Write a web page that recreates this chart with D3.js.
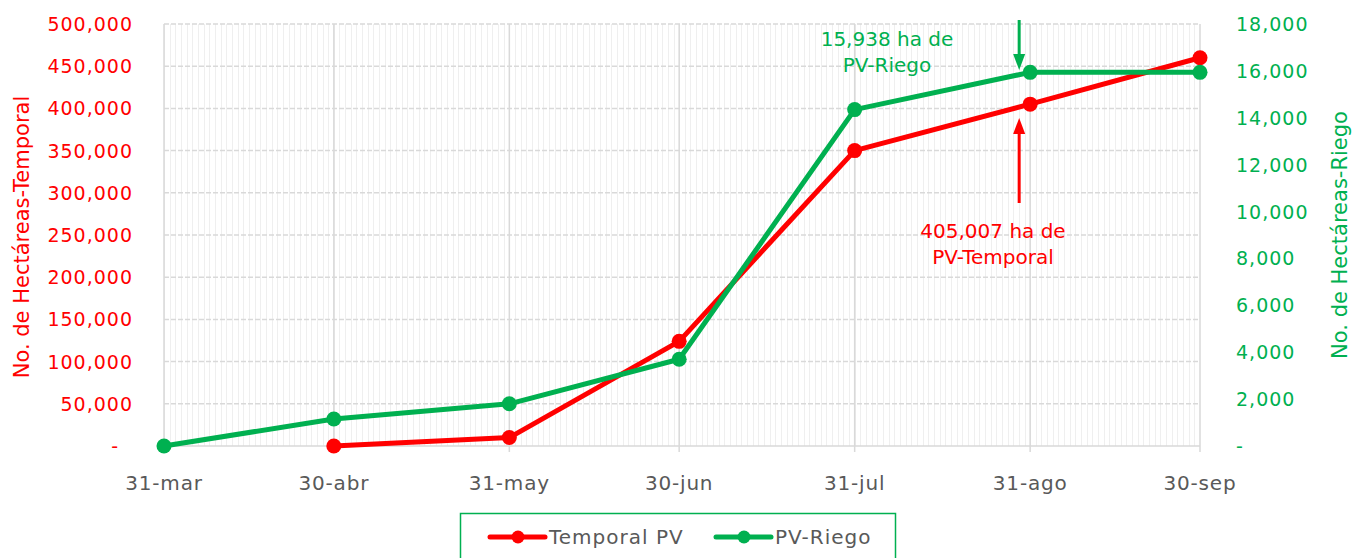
<!DOCTYPE html>
<html lang="es">
<head>
<meta charset="UTF-8">
<title>Hectáreas PV Temporal y Riego</title>
<style>
    body { margin: 0; background: #FFFFFF; }
    svg text { font-family: "DejaVu Sans", sans-serif; }
</style>
</head>
<body>
<div id="chart"></div>
<script src="https://d3js.org/d3.v7.min.js"></script>
<script>
    // Data
    const dates = ["2021-03-31", "2021-04-30", "2021-05-31", "2021-06-30", "2021-07-31", "2021-08-31", "2021-09-30"];
    const tickLabels = ["31-mar", "30-abr", "31-may", "30-jun", "31-jul", "31-ago", "30-sep"];
    const temporal = [null, 0, 10000, 124000, 350000, 405007, 460000];
    const riego = [0, 1150, 1800, 3700, 14350, 15938, 15938];
    const leftTicks = [0, 50000, 100000, 150000, 200000, 250000, 300000, 350000, 400000, 450000, 500000];
    const rightTicks = [0, 2000, 4000, 6000, 8000, 10000, 12000, 14000, 16000, 18000];

    const width = 1352, height = 558;
    const red = "#FF0000", green = "#00B050", gray = "#595959";
    const margin = { top: 24, right: 152, bottom: 112, left: 164 };
    const parse = d3.timeParse("%Y-%m-%d");
    const days = dates.map(parse);

    const svg = d3.select("#chart").append("svg")
        .attr("width", width)
        .attr("height", height);

    const x = d3.scaleTime()
        .domain([days[0], days[days.length - 1]])
        .range([margin.left, width - margin.right]);
    const yL = d3.scaleLinear().domain([0, 500000]).range([height - margin.bottom, margin.top]);
    const yR = d3.scaleLinear().domain([0, 18000]).range([height - margin.bottom, margin.top]);

    const fmt = v => v === 0 ? "-" : d3.format(",")(v);

    // daily minor gridlines
    svg.append("g")
        .selectAll("line")
        .data(d3.timeDay.range(days[0], days[days.length - 1]))
        .join("line")
        .attr("x1", d => Math.round(x(d)) + 0.5)
        .attr("x2", d => Math.round(x(d)) + 0.5)
        .attr("y1", margin.top)
        .attr("y2", height - margin.bottom)
        .attr("stroke", "#EFEFEF")
        .attr("stroke-width", 1);

    // horizontal gridlines
    svg.append("g")
        .selectAll("line")
        .data(leftTicks)
        .join("line")
        .attr("x1", margin.left)
        .attr("x2", width - margin.right)
        .attr("y1", d => yL(d))
        .attr("y2", d => yL(d))
        .attr("stroke", "#D9D9D9")
        .attr("stroke-width", 1.5)
        .attr("stroke-dasharray", d => d === 0 ? null : "5,2");

    // month gridlines
    svg.append("g")
        .selectAll("line")
        .data(days)
        .join("line")
        .attr("x1", d => x(d))
        .attr("x2", d => x(d))
        .attr("y1", margin.top)
        .attr("y2", height - margin.bottom + 6)
        .attr("stroke", "#D9D9D9")
        .attr("stroke-width", 1.5);

    // x axis labels
    svg.append("g")
        .selectAll("text")
        .data(days)
        .join("text")
        .attr("x", d => x(d))
        .attr("y", height - margin.bottom + 44)
        .attr("text-anchor", "middle")
        .attr("font-size", "20px")
        .attr("letter-spacing", "0.8px")
        .attr("fill", gray)
        .text((d, i) => tickLabels[i]);

    // left axis labels
    svg.append("g")
        .selectAll("text")
        .data(leftTicks)
        .join("text")
        .attr("x", d => d === 0 ? 119 : 133)
        .attr("y", d => yL(d) + 7)
        .attr("text-anchor", "end")
        .attr("font-size", "19px")
        .attr("letter-spacing", "1px")
        .attr("fill", red)
        .text(fmt);

    // right axis labels
    svg.append("g")
        .selectAll("text")
        .data(rightTicks)
        .join("text")
        .attr("x", 1236)
        .attr("y", d => yR(d) + 7)
        .attr("text-anchor", "start")
        .attr("font-size", "19px")
        .attr("letter-spacing", "1px")
        .attr("fill", green)
        .text(fmt);

    // axis titles
    svg.append("text")
        .attr("transform", "translate(29,237) rotate(-90)")
        .attr("text-anchor", "middle")
        .attr("font-size", "21px")
        .attr("fill", red)
        .text("No. de Hectáreas-Temporal");
    svg.append("text")
        .attr("transform", "translate(1347,235) rotate(-90)")
        .attr("text-anchor", "middle")
        .attr("font-size", "21px")
        .attr("fill", green)
        .text("No. de Hectáreas-Riego");

    // series
    const series = [
        { name: "Temporal PV", color: red, values: temporal, y: yL },
        { name: "PV-Riego", color: green, values: riego, y: yR }
    ];

    series.forEach(s => {
        const pts = days.map((d, i) => ({ d, v: s.values[i] })).filter(p => p.v !== null);
        svg.append("path")
            .datum(pts)
            .attr("fill", "none")
            .attr("stroke", s.color)
            .attr("stroke-width", 5)
            .attr("stroke-linejoin", "round")
            .attr("d", d3.line().x(p => x(p.d)).y(p => s.y(p.v)));
        svg.append("g")
            .selectAll("circle")
            .data(pts)
            .join("circle")
            .attr("cx", p => x(p.d))
            .attr("cy", p => s.y(p.v))
            .attr("r", 7.5)
            .attr("fill", s.color);
    });

    // annotations
    const ago = x(days[5]) - 11;
    function arrow(xPos, y1, y2, color) {
        const dir = y2 > y1 ? 1 : -1;
        svg.append("line")
            .attr("x1", xPos).attr("x2", xPos)
            .attr("y1", y1).attr("y2", y2 - dir * 12)
            .attr("stroke", color)
            .attr("stroke-width", 3);
        svg.append("path")
            .attr("d", `M${xPos - 6},${y2 - dir * 16}L${xPos + 6},${y2 - dir * 16}L${xPos},${y2}Z`)
            .attr("fill", color);
    }
    arrow(ago, 20, 70, green);
    arrow(ago, 203, 118, red);

    function note(cx, y, lines, color) {
        svg.append("text")
            .attr("y", y)
            .attr("text-anchor", "middle")
            .attr("font-size", "20px")
            .attr("fill", color)
            .selectAll("tspan")
            .data(lines)
            .join("tspan")
            .attr("x", cx)
            .attr("dy", (d, i) => i === 0 ? 0 : 26)
            .text(d => d);
    }
    note(887, 46, ["15,938 ha de", "PV-Riego"], green);
    note(993, 238, ["405,007 ha de", "PV-Temporal"], red);

    // legend
    svg.append("rect")
        .attr("x", 460.5).attr("y", 513.5)
        .attr("width", 435).attr("height", 60)
        .attr("fill", "#FFFFFF")
        .attr("stroke", green)
        .attr("stroke-width", 1.5);

    const legendX = [490, 716];
    series.forEach((s, i) => {
        const g = svg.append("g").attr("transform", `translate(${legendX[i]},537)`);
        g.append("line")
            .attr("x1", 0).attr("x2", 55)
            .attr("stroke", s.color)
            .attr("stroke-width", 5)
            .attr("stroke-linecap", "round");
        g.append("circle").attr("cx", 28).attr("r", 6.5).attr("fill", s.color);
        g.append("text")
            .attr("x", 59).attr("y", 7)
            .attr("font-size", "20px")
            .attr("letter-spacing", "1px")
            .attr("fill", gray)
            .text(s.name);
    });
</script>
</body>
</html>
